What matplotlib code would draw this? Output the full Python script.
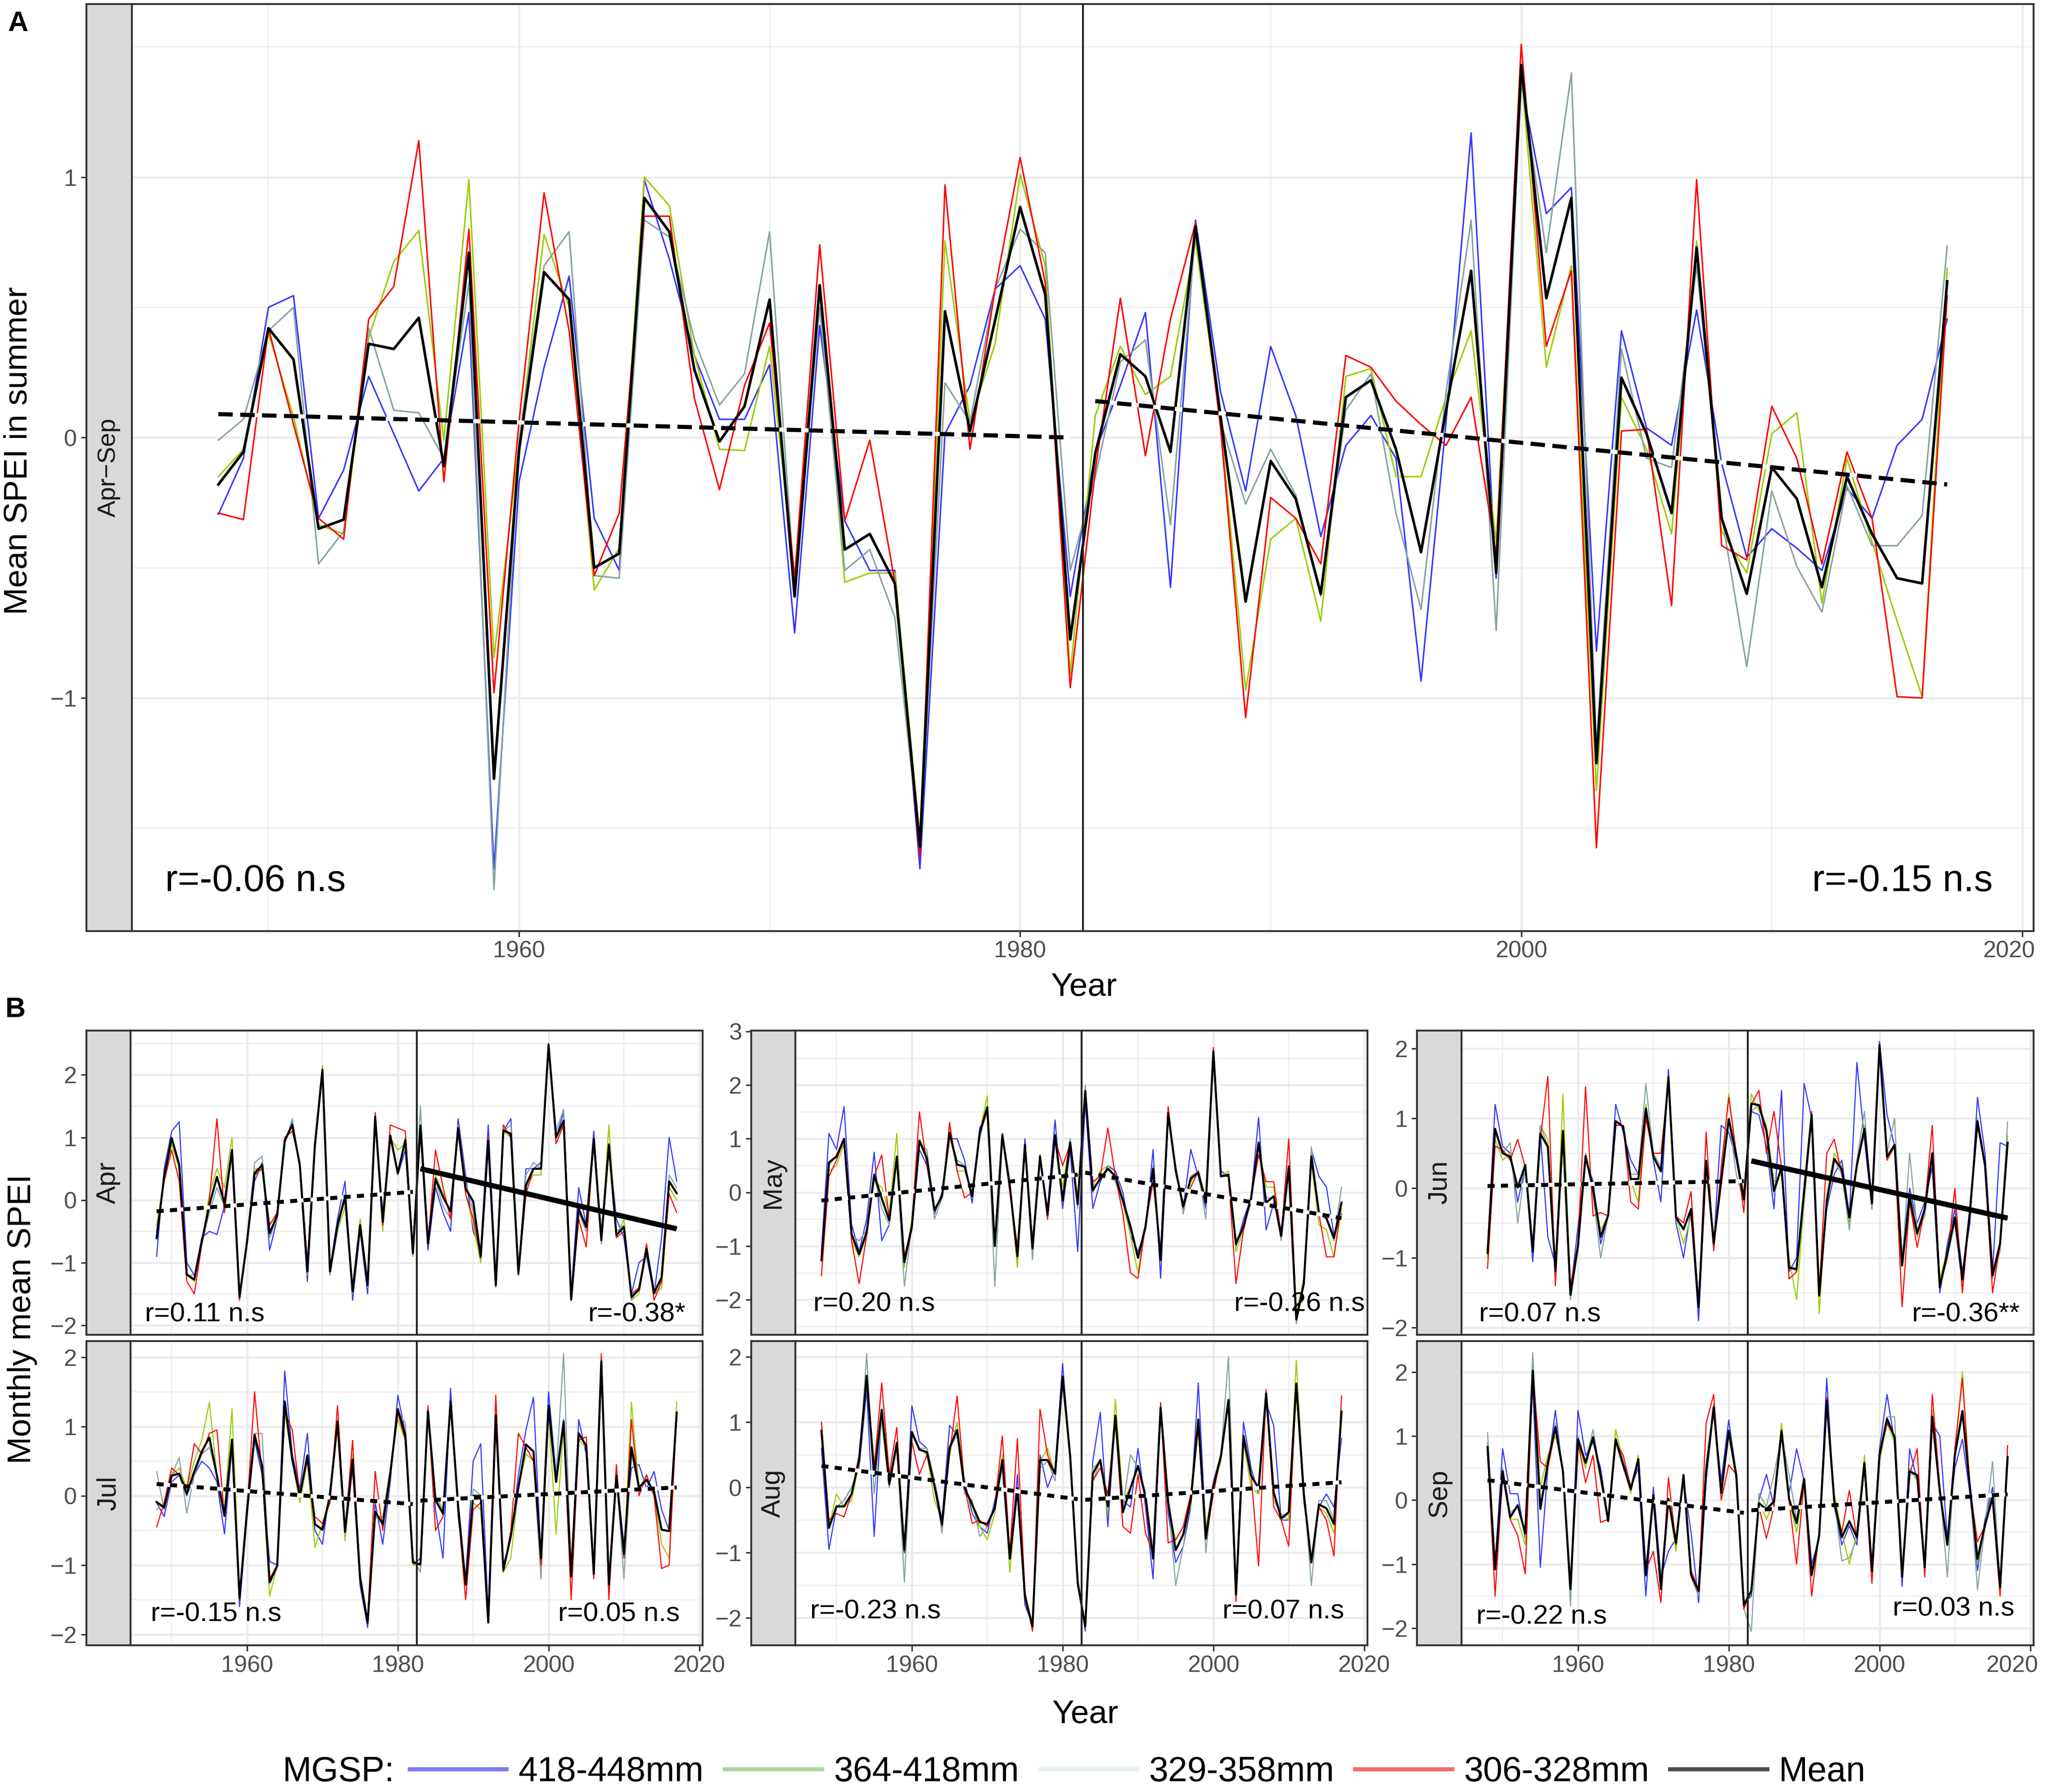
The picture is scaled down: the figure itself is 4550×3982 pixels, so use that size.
import numpy as np
import matplotlib
matplotlib.use('Agg')
import matplotlib.pyplot as plt
from matplotlib.lines import Line2D

plt.rcParams['font.family'] = ['Liberation Sans', 'DejaVu Sans']

years = np.arange(1948, 2018)
break_year = 1982.5
period1 = (1948, 1982)
period2 = (1983, 2017)

legend_labels = ['418-448mm', '364-418mm', '329-358mm', '306-328mm', 'Mean']
line_colors = ['#3535ff', '#9acd00', '#86a2a2', '#ff0000']
legend_colors = ['#7a7af2', '#aad5a0', '#e6f1e6', '#f36d6d', '#4d4d4d']

# ---------------- panel A : Apr-Sep mean SPEI ----------------
sum_mean = [-0.18, -0.055, 0.42, 0.30, -0.35, -0.315, 0.36, 0.34, 0.46, -0.11,
            0.71, -1.31, -0.05, 0.635, 0.53, -0.50, -0.445, 0.92, 0.79, 0.26,
            -0.015, 0.12, 0.53, -0.61, 0.585, -0.43, -0.37, -0.56, -1.57, 0.485,
            0.025, 0.45, 0.885, 0.55, -0.775, -0.06, 0.32, 0.235, -0.055, 0.81,
            0.08, -0.63, -0.09, -0.235, -0.60, 0.155, 0.22, -0.045, -0.44, 0.105,
            0.64, -0.52, 1.43, 0.535, 0.92, -1.25, 0.23, 0.015, -0.29, 0.73,
            -0.31, -0.60, -0.115, -0.235, -0.575, -0.15, -0.37, -0.54, -0.56, 0.60]
sum_blue = [-0.295, -0.08, 0.50, 0.545, -0.31, -0.125, 0.235, 0.015, -0.205, -0.08,
            0.48, -1.655, -0.17, 0.27, 0.62, -0.31, -0.51, 0.99, 0.685, 0.315,
            0.07, 0.07, 0.28, -0.75, 0.43, -0.32, -0.51, -0.51, -1.655, 0.015,
            0.20, 0.57, 0.66, 0.455, -0.61, -0.055, 0.20, 0.48, -0.575, 0.835,
            0.175, -0.205, 0.35, 0.085, -0.38, -0.03, 0.085, -0.08, -0.935, 0.06,
            1.17, -0.54, 1.36, 0.86, 0.96, -0.82, 0.41, 0.037, -0.03, 0.49,
            -0.10, -0.46, -0.35, -0.425, -0.51, -0.195, -0.31, -0.03, 0.07, 0.455]
sum_green = [-0.15, -0.045, 0.40, 0.08, -0.335, -0.37, 0.385, 0.675, 0.795, -0.01,
             0.99, -0.845, -0.03, 0.78, 0.50, -0.585, -0.425, 1.0, 0.89, 0.315,
             -0.045, -0.05, 0.35, -0.54, 0.57, -0.555, -0.52, -0.52, -1.54, 0.755,
             0.06, 0.36, 1.01, 0.66, -0.91, 0.085, 0.35, 0.165, 0.235, 0.755,
             0.06, -0.97, -0.39, -0.31, -0.705, 0.235, 0.265, -0.15, -0.15, 0.155,
             0.41, -0.40, 1.40, 0.27, 0.66, -1.355, 0.155, -0.045, -0.37, 0.755,
             -0.36, -0.52, 0.015, 0.095, -0.635, -0.08, -0.40, -0.705, -0.995, 0.65]
sum_gray = [-0.01, 0.07, 0.41, 0.50, -0.485, -0.36, 0.42, 0.105, 0.095, -0.08,
            0.595, -1.735, -0.01, 0.66, 0.79, -0.53, -0.54, 0.835, 0.77, 0.375,
            0.125, 0.245, 0.79, -0.575, 0.50, -0.51, -0.43, -0.69, -1.575, 0.21,
            0.06, 0.57, 0.80, 0.71, -0.51, -0.15, 0.29, 0.375, -0.335, 0.79,
            0.06, -0.255, -0.045, -0.22, -0.61, 0.105, 0.245, -0.29, -0.66, 0.175,
            0.835, -0.74, 1.38, 0.71, 1.40, -1.19, 0.34, -0.08, -0.115, 0.66,
            -0.30, -0.88, -0.205, -0.495, -0.67, -0.185, -0.415, -0.415, -0.30, 0.735]
sum_red = [-0.29, -0.315, 0.42, 0.05, -0.31, -0.39, 0.455, 0.58, 1.14, -0.17,
           0.80, -0.98, 0.06, 0.94, 0.41, -0.53, -0.29, 0.85, 0.85, 0.15,
           -0.20, 0.20, 0.44, -0.54, 0.74, -0.32, -0.01, -0.555, -1.61, 0.97,
           -0.045, 0.57, 1.075, 0.595, -0.96, -0.125, 0.535, -0.07, 0.455, 0.825,
           0.037, -1.075, -0.23, -0.31, -0.485, 0.315, 0.27, 0.14, 0.05, -0.03,
           0.155, -0.45, 1.51, 0.35, 0.64, -1.575, 0.025, 0.032, -0.645, 0.99,
           -0.415, -0.47, 0.12, -0.08, -0.485, -0.055, -0.31, -0.995, -1.0, 0.545]
sum_trend = [(0.09, 0.0, False), (0.14, -0.18, False)]
sum_r = ['r=-0.06 n.s', 'r=-0.15 n.s']

# ---------------- panel B : monthly SPEI ----------------
apr_mean = [-0.61, 0.37, 0.99, 0.56, -1.19, -1.27, -0.66, -0.08, 0.37, -0.05,
            0.80, -1.55, -0.66, 0.43, 0.56, -0.53, -0.24, 0.95, 1.20, 0.56,
            -1.14, 0.88, 2.08, -1.14, -0.40, 0.06, -1.46, -0.40, -1.36, 1.33,
            -0.35, 1.03, 0.43, 0.96, -0.85, 1.19, -0.69, 0.34, 0.05, -0.18,
            1.15, 0.18, -0.02, -0.91, 0.95, -1.36, 1.11, 1.06, -1.17, 0.24,
            0.50, 0.50, 2.48, 1.00, 1.27, -1.59, -0.14, -0.43, 0.98, -0.64,
            0.88, -0.56, -0.43, -1.55, -1.43, -0.78, -1.49, -1.23, 0.30, 0.11]
apr_blue = [-0.9, 0.5, 1.1, 1.25, -1.0, -1.2, -0.6, -0.5, -0.55, -0.1,
            0.8, -1.5, -0.7, 0.3, 0.6, -0.8, -0.3, 0.9, 1.25, 0.5,
            -1.3, 0.8, 2.0, -1.1, -0.3, 0.3, -1.6, -0.5, -1.5, 1.3,
            -0.2, 1.0, 0.4, 0.8, -0.9, 1.2, -0.8, 0.2, -0.2, -0.5,
            1.3, 0.4, -0.5, -0.8, 1.2, -1.3, 1.1, 1.3, -1.2, 0.5,
            0.5, 0.6, 2.4, 1.0, 1.4, -1.5, 0.2, -0.4, 1.1, -0.6,
            0.9, -0.3, -0.6, -1.5, -1.0, -0.9, -1.5, -0.6, 1.0, 0.3]
apr_green = [-0.4, 0.3, 0.9, 0.5, -1.2, -1.3, -0.7, 0.1, 0.5, 0.2,
             1.0, -1.6, -0.6, 0.5, 0.5, -0.4, -0.2, 1.0, 1.1, 0.6,
             -1.1, 0.9, 2.15, -1.2, -0.5, -0.1, -1.4, -0.3, -1.3, 1.3,
             -0.5, 1.0, 0.8, 0.9, -0.9, 1.2, -0.6, 0.4, 0.1, -0.2,
             1.1, 0.1, -0.4, -1.0, 0.9, -1.4, 1.1, 1.0, -1.2, 0.2,
             0.4, 0.4, 2.5, 1.0, 1.2, -1.6, -0.2, -0.4, 1.0, -0.7,
             1.2, -0.6, -0.3, -1.6, -1.5, -0.7, -1.5, -1.4, 0.2, 0.0]
apr_gray = [-0.6, 0.4, 1.0, 0.6, -1.2, -1.2, -0.7, -0.2, 0.2, -0.1,
            0.7, -1.5, -0.7, 0.6, 0.7, -0.6, -0.3, 0.9, 1.3, 0.5,
            -1.2, 0.9, 2.0, -1.2, -0.5, 0.1, -1.5, -0.4, -1.4, 1.3,
            -0.3, 1.0, 0.4, 1.0, -0.8, 1.5, -0.7, 0.3, -0.1, -0.3,
            1.2, 0.3, -0.2, -0.9, 1.0, -1.4, 1.1, 1.2, -1.1, 0.4,
            0.6, 0.5, 2.4, 1.1, 1.45, -1.6, -0.2, -0.5, 0.9, -0.7,
            0.8, -0.5, -0.4, -1.6, -1.4, -0.8, -1.4, -1.3, 0.4, 0.2]
apr_red = [-0.5, 0.3, 0.8, 0.3, -1.3, -1.5, -0.7, 0.0, 1.3, -0.2,
           0.8, -1.6, -0.7, 0.4, 0.5, -0.4, -0.2, 1.0, 1.1, 0.6,
           -1.0, 0.9, 2.1, -1.1, -0.4, 0.0, -1.4, -0.4, -1.3, 1.4,
           -0.4, 1.2, 1.15, 1.1, -0.8, 1.1, -0.7, 0.8, 0.2, -0.3,
           1.1, 0.1, -0.3, -0.9, 1.0, -1.3, 1.2, 1.0, -1.2, 0.1,
           0.5, 0.5, 2.5, 0.9, 1.2, -1.6, -0.3, -0.75, 1.0, -0.6,
           0.9, -0.6, -0.5, -1.5, -1.4, -0.7, -1.6, -1.3, 0.1, -0.2]

may_mean = [-1.26, 0.56, 0.67, 1.00, -0.78, -1.15, -0.74, 0.33, -0.11, -0.52,
            0.67, -1.30, -0.63, 0.96, 0.63, -0.33, -0.07, 1.11, 0.52, 0.48,
            -0.07, 1.11, 1.59, -1.00, 1.07, 0.11, -1.19, 0.89, -1.04, 0.67,
            -0.41, 1.07, -0.15, 0.93, -0.22, 1.89, 0.04, 0.26, 0.44, 0.30,
            -0.15, -0.63, -1.22, -0.63, 0.44, -1.26, 1.48, 0.41, -0.26, 0.26,
            0.37, -0.19, 2.63, 0.30, 0.33, -0.96, -0.63, -0.11, 0.93, -0.19,
            -0.07, -0.81, 0.48, -2.37, -1.70, 0.67, -0.37, -0.48, -0.85, -0.19]
may_blue = [-1.1, 1.1, 0.8, 1.6, -0.6, -1.1, -0.5, 0.75, -0.9, -0.6,
            0.6, -1.2, -0.7, 0.8, 0.5, -0.4, 0.0, 1.0, 1.0, 0.6,
            -0.2, 1.2, 1.5, -0.9, 1.1, 0.2, -1.3, 1.0, -1.1, 0.6,
            -0.3, 1.35, -0.3, 0.8, -1.1, 1.7, -0.3, 0.2, 0.5, 0.4,
            0.0, -0.8, -1.1, -0.7, 0.8, -1.6, 1.4, 0.5, -0.3, 0.8,
            0.3, -0.3, 2.6, 0.4, 0.3, -1.0, -0.5, -0.1, 1.4, -0.7,
            -0.2, -0.7, 0.5, -2.3, -1.6, 0.8, 0.3, 0.1, -0.8, -0.4]
may_green = [-1.3, 0.4, 0.5, 0.9, -0.9, -1.2, -0.8, 0.2, 0.1, -0.4,
             1.1, -1.4, -0.5, 1.0, 0.7, -0.3, -0.1, 1.2, 0.4, 0.4,
             0.0, 1.1, 1.8, -1.0, 1.0, 0.1, -1.4, 0.9, -1.0, 0.7,
             -0.4, 1.0, 0.1, 1.0, -0.2, 1.8, 0.1, 0.4, 0.5, 0.3,
             -0.2, -0.8, -1.5, -0.6, 0.4, -1.2, 1.5, 0.4, -0.2, 0.2,
             0.4, -0.1, 2.6, 0.3, 0.4, -1.1, -0.7, -0.1, 0.9, 0.1,
             0.1, -0.8, 0.4, -2.3, -1.6, 0.6, -0.6, -0.7, -1.2, -0.3]
may_gray = [-1.2, 0.5, 0.7, 0.9, -0.8, -0.9, -0.7, 0.3, -0.3, -0.6,
            0.6, -1.75, -0.6, 0.9, 0.8, -0.5, -0.1, 1.1, 0.6, 0.5,
            -0.1, 1.0, 1.6, -1.75, 1.0, 0.1, -1.1, 0.8, -1.25, 0.7,
            -0.4, 1.0, -0.1, 1.0, -0.3, 2.0, 0.0, 0.3, 0.3, 0.2,
            -0.2, -0.6, -1.2, -0.7, 0.5, -1.3, 1.4, 0.5, -0.4, 0.3,
            0.4, -0.5, 2.6, 0.3, 0.3, -0.9, -0.6, -0.2, 0.9, -0.1,
            -0.1, -0.9, 0.4, -2.45, -1.7, 0.85, -0.4, -0.5, -0.9, 0.1]
may_red = [-1.55, 0.3, 0.6, 1.0, -0.9, -1.7, -0.8, 0.3, 0.7, -0.5,
           0.6, -1.2, -0.6, 1.5, 0.5, -0.3, -0.1, 1.3, 0.4, -0.1,
           0.0, 1.1, 1.5, -0.9, 1.1, 0.0, -1.0, 0.8, -0.9, 0.7,
           -0.5, 1.0, 0.5, 0.9, -0.1, 1.9, 0.2, 0.3, 1.2, 0.3,
           -0.4, -1.5, -1.6, -0.6, 0.2, -1.1, 1.6, 0.4, -0.2, 0.1,
           0.4, -0.2, 2.7, 0.3, 0.3, -1.7, -0.7, -0.1, 0.7, 0.2,
           0.2, -0.8, 1.0, -2.3, -1.7, 0.6, -0.4, -1.2, -1.2, -0.2]

jun_mean = [-0.93, 0.85, 0.50, 0.45, 0.01, 0.33, -0.91, 0.78, 0.59, -1.19,
            0.82, -1.53, -0.82, 0.46, -0.01, -0.70, -0.39, 0.96, 0.88, 0.13,
            0.13, 1.14, 0.45, 0.24, 1.59, -0.42, -0.59, -0.30, -1.71, 0.39,
            -0.79, 0.10, 0.99, 0.47, -0.16, 1.21, 1.19, 0.82, -0.04, 0.30,
            -1.14, -1.16, -0.04, 1.05, -1.54, -0.19, 0.42, 0.27, -0.42, 0.33,
            0.85, -0.22, 2.05, 0.45, 0.62, -1.11, -0.13, -0.65, -0.30, 0.50,
            -1.42, -0.93, -0.42, -1.31, -0.33, 0.96, 0.33, -1.25, -0.79, 0.65]
jun_blue = [-0.9, 1.2, 0.6, 0.5, -0.2, 0.3, -1.05, 0.8, -0.7, -1.1,
            0.8, -1.5, -0.55, 0.4, 0.1, -0.8, -0.4, 1.2, 0.8, 0.4,
            0.2, 1.1, 0.4, -0.2, 1.7, -0.5, -1.0, -0.3, -1.9, 0.4,
            -0.8, 0.9, 0.8, 0.4, -0.2, 1.1, 1.05, 0.6, -0.3, 1.4,
            -1.2, -1.0, 1.5, 1.0, -1.5, -0.3, 0.2, 0.4, -0.4, 1.8,
            0.7, -0.3, 2.1, 1.05, 0.6, -1.0, 0.0, -0.5, -0.2, 0.3,
            -1.5, -0.8, -0.3, -1.2, -0.5, 1.3, 0.5, -1.2, 0.65, 0.6]
jun_green = [-1.0, 0.7, 0.4, 0.5, 0.0, 0.3, -0.9, 0.9, 0.7, -1.3,
             1.35, -1.5, -0.9, 0.5, 0.0, -0.6, -0.4, 0.9, 0.9, 0.1,
             -0.2, 1.2, 0.5, 0.3, 1.5, -0.4, -0.8, -0.4, -1.6, 0.4,
             -0.8, 0.2, 1.35, 0.5, -0.1, 1.35, 1.1, 0.9, 0.1, 0.2,
             -1.0, -1.6, -0.2, 1.0, -1.8, -0.1, 0.5, 0.3, -0.5, 0.3,
             0.9, -0.2, 2.0, 0.4, 0.6, -1.1, -0.2, -0.7, -0.3, 0.5,
             -1.3, -0.9, -0.4, -1.3, -0.3, 1.0, 0.3, -1.2, -0.8, 0.75]
jun_gray = [-0.9, 0.8, 0.5, 0.65, -0.5, 0.3, -0.8, 0.9, 0.6, -1.2,
            0.7, -1.6, -0.8, 0.5, -0.1, -1.0, -0.4, 0.9, 0.9, 0.2,
            0.2, 1.5, 0.5, 0.3, 1.5, -0.4, -0.6, -0.3, -1.7, 0.4,
            -0.7, 0.2, 1.0, 0.2, -0.2, 1.1, 1.2, 0.8, -0.1, 0.3,
            -1.1, -1.2, -0.2, 1.0, -1.5, -0.2, 0.4, 0.2, -0.6, 0.4,
            1.1, -0.3, 2.0, 0.5, 1.0, -1.1, 0.5, -0.6, -0.4, 0.5,
            -1.4, -1.0, -0.5, -1.4, -0.3, 0.9, 0.3, -1.3, -0.9, 0.95]
jun_red = [-1.15, 0.6, 0.55, 0.4, 0.7, 0.3, -0.9, 0.7, 1.6, -1.4,
           0.8, -1.4, -0.8, 1.45, -0.4, -0.35, -0.4, 0.9, 0.9, -0.2,
           -0.3, 1.0, 0.5, 0.5, 1.5, -0.4, -0.5, -0.05, -1.7, 0.8,
           -0.9, 0.3, 1.3, 0.5, -0.35, 1.2, 1.4, 0.5, 1.1, 0.3,
           -1.3, -1.2, 0.0, 1.1, -1.5, 0.5, 0.7, 0.2, -0.4, 0.3,
           0.8, -0.2, 2.0, 0.4, 0.6, -1.7, -0.2, -0.85, -0.3, 0.9,
           -1.4, -1.0, 0.0, -1.5, -0.3, 0.9, 0.3, -1.5, -0.8, 0.6]

jul_mean = [-0.09, -0.17, 0.29, 0.32, 0.03, 0.35, 0.64, 0.84, 0.29, -0.29,
            0.81, -1.48, -0.20, 0.88, 0.43, -1.25, -1.01, 1.36, 0.52, 0.00,
            0.58, -0.41, -0.49, 0.00, 1.07, -0.52, 0.52, -1.19, -1.83, -0.23,
            -0.41, 0.32, 1.25, 0.87, -0.96, -0.99, 1.22, -0.06, -0.26, 1.36,
            -0.14, -1.28, 0.00, 0.00, -1.83, 1.16, -1.07, -0.58, 0.12, 0.74,
            0.64, -0.90, 1.30, 0.20, 1.07, -1.16, 0.90, 0.72, -1.13, 1.94,
            -1.28, 0.29, -0.84, 0.70, 0.12, 0.23, 0.06, -0.49, -0.51, 1.20]
jul_blue = [-0.1, -0.3, 0.2, 0.3, 0.0, 0.3, 0.5, 0.4, 0.2, -0.55,
            0.7, -1.6, -0.3, 0.8, 0.3, -0.95, -1.0, 1.8, 0.6, 0.1,
            0.9, -0.5, -0.7, 0.1, 1.0, -0.6, 0.4, -1.3, -1.9, -0.1,
            -0.7, 0.2, 1.45, 0.9, -1.0, -0.9, 1.2, -0.2, -0.9, 1.55,
            -0.3, -1.2, 0.5, 0.75, -1.7, 1.1, -1.0, -0.6, 0.3, 0.95,
            1.42, -0.9, 1.5, 0.3, 1.1, -1.1, 1.1, 0.6, -1.1, 1.8,
            -1.2, 0.3, -0.7, 0.4, 0.45, 0.1, 0.35, -0.2, -0.5, 1.1]
jul_green = [-0.2, -0.1, 0.3, 0.4, 0.1, 0.5, 0.8, 1.35, 0.3, -0.2,
             1.25, -1.4, -0.2, 0.9, 0.4, -1.45, -1.0, 1.2, 0.5, -0.1,
             0.5, -0.75, -0.4, 0.0, 1.1, -0.65, 0.6, -1.1, -1.8, -0.3,
             -0.3, 0.4, 1.1, 0.8, -1.0, -1.0, 1.2, -0.1, -0.2, 1.3,
             -0.1, -1.3, -0.1, -0.2, -1.8, 1.2, -1.1, -0.9, 0.1, 0.6,
             0.5, -0.8, 1.2, -0.55, 1.0, -1.2, 0.8, 0.7, -1.0, 1.9,
             -1.3, 0.2, -0.9, 1.35, 0.1, 0.3, 0.0, -0.7, -0.9, 1.35]
jul_gray = [0.35, -0.2, 0.3, 0.55, -0.25, 0.3, 0.6, 0.7, 0.3, -0.3,
            0.8, -1.5, -0.2, 0.9, 0.9, -1.2, -1.0, 1.3, 0.5, 0.0,
            0.6, -0.4, -0.5, 0.0, 1.0, -0.5, 0.5, -1.2, -1.8, -0.3,
            -0.4, 0.3, 1.2, 1.05, -0.9, -1.1, 1.2, 0.0, -0.2, 1.3,
            -0.1, -1.3, 0.1, 0.0, -1.8, 1.1, -1.1, -0.5, 0.1, 0.7,
            0.5, -1.2, 1.3, 0.3, 2.05, -1.1, 0.9, 0.7, -1.1, 1.9,
            -1.3, 0.3, -1.2, 0.6, 0.1, 0.3, 0.0, -0.5, -0.5, 1.2]
jul_red = [-0.45, -0.1, 0.4, 0.3, 0.1, 0.75, 0.6, 0.9, 0.95, -0.3,
           0.7, -1.5, -0.2, 1.5, 0.3, -1.2, -1.0, 1.2, 0.95, 0.0,
           0.5, -0.3, -0.4, -0.1, 1.3, -0.5, 0.8, -1.2, -1.8, 0.35,
           -0.5, 0.3, 1.2, 0.8, -0.95, -1.0, 1.3, -0.5, -0.3, 1.3,
           -0.2, -1.5, -0.2, -0.1, -1.8, 1.45, -1.1, -0.5, 0.9, 0.7,
           0.5, -1.0, 1.2, 0.2, 1.0, -1.5, 0.8, 0.85, -1.2, 2.05,
           -1.5, 0.45, -0.9, 1.1, 0.0, 0.3, 0.0, -1.05, -1.0, 1.2]

aug_mean = [0.87, -0.62, -0.29, -0.29, -0.10, 0.42, 1.71, 0.18, 1.19, 0.05,
            0.68, -0.96, 0.85, 0.58, 0.54, 0.02, -0.56, 0.61, 0.88, -0.01,
            -0.26, -0.53, -0.56, -0.32, 0.42, -1.09, -0.01, -1.67, -2.13, 0.42,
            0.42, 0.21, 1.70, 0.48, -1.46, -2.13, 0.21, 0.42, -0.29, 1.10,
            -0.38, -0.01, 0.33, -0.13, -1.09, 1.22, -0.22, -0.96, -0.72, -0.19,
            1.04, -0.78, 0.02, 0.48, 1.34, -1.64, 0.79, 0.18, -0.01, 1.44,
            -0.07, -0.47, -0.38, 1.59, -0.10, -1.15, -0.26, -0.32, -0.56, 1.16]
aug_blue = [0.6, -0.95, -0.3, -0.2, 0.0, 0.3, 1.5, -0.75, 1.2, 0.1,
            0.7, -1.0, 1.25, 0.7, 0.6, 0.1, -0.5, 0.95, 0.8, 0.1,
            -0.4, -0.6, -0.7, -0.2, 0.3, -1.1, 0.2, -1.8, -2.1, 0.5,
            0.0, 0.3, 1.9, 0.4, -1.4, -2.2, 0.4, 1.15, -0.6, 1.1,
            -0.2, -0.3, 0.6, -0.3, -1.4, 1.2, -0.4, -1.15, -0.9, -0.3,
            1.6, -0.7, 0.1, 0.5, 1.3, -1.6, 1.0, 0.3, -0.1, 1.3,
            0.95, -0.5, -0.5, 1.5, -0.2, -1.1, -0.3, -0.1, -0.3, 0.75]
aug_green = [1.0, -0.6, -0.1, -0.3, -0.2, 0.4, 1.6, 0.4, 1.0, 0.0,
             0.6, -1.0, 0.8, 0.6, 0.5, -0.2, -0.5, 0.5, 1.0, 0.0,
             -0.3, -0.6, -0.8, -0.4, 0.5, -1.3, 0.0, -1.6, -2.1, 0.4,
             0.6, 0.2, 1.6, 0.4, -1.4, -2.1, 0.3, 0.4, -0.4, 1.35,
             -0.2, 0.0, 0.3, -0.1, -1.1, 1.2, -0.3, -0.8, -0.6, -0.3,
             0.9, -0.6, 0.0, 0.4, 1.3, -1.6, 0.7, 0.0, -0.1, 1.4,
             -0.2, -0.4, -0.5, 1.95, -0.1, -1.1, -0.3, -0.4, -0.7, 1.2]
aug_gray = [0.8, -0.6, -0.3, -0.2, 0.0, 0.3, 2.05, -0.1, 1.1, 0.0,
            0.7, -1.45, 0.8, 0.6, 0.6, 0.1, -0.7, 0.6, 0.8, -0.1,
            -0.2, -0.75, -0.6, -0.3, 0.3, -1.0, -0.1, -1.7, -2.1, 0.3,
            0.4, 0.1, 1.7, 0.5, -1.5, -2.1, 0.1, 0.4, -0.2, 1.1,
            -0.3, 0.5, 0.3, -0.2, -1.0, 1.2, -0.2, -1.5, -0.9, -0.1,
            1.0, -1.0, 0.1, 0.5, 2.0, -1.5, 0.8, 0.2, 0.0, 1.4,
            -0.1, -0.5, -0.4, 1.5, 0.0, -1.5, -0.2, -0.2, -0.5, 1.1]
aug_red = [1.0, -0.5, -0.4, -0.45, -0.1, 0.5, 1.7, 0.3, 1.6, 0.2,
           0.92, -1.0, 0.7, 0.2, 0.5, 0.0, -0.6, 0.5, 1.4, 0.0,
           -0.55, -0.5, -0.6, -0.3, 0.79, -1.0, 0.75, -1.6, -2.2, 1.2,
           0.5, 0.2, 1.6, 0.5, -1.5, -2.1, 0.1, 0.3, -0.1, 1.0,
           -0.6, -0.7, 0.2, -0.7, -1.0, 1.3, -0.85, -0.8, -0.6, -0.1,
           0.9, -0.8, -0.1, 0.5, 1.3, -1.75, 0.7, 0.2, -1.2, 1.5,
           -0.3, -0.5, -0.9, 1.6, -0.1, -1.1, -0.3, -0.5, -1.05, 1.4]

sep_mean = [0.83, -1.08, 0.45, -0.27, -0.08, -0.52, 2.02, -0.14, 0.58, 1.14,
            0.45, -1.39, 0.95, 0.58, 0.98, 0.39, -0.33, 0.95, 0.55, 0.17,
            0.64, -1.17, 0.08, -1.39, 0.02, -0.67, 0.39, -1.17, -1.42, 0.45,
            1.45, 0.11, 1.08, 0.39, -1.64, -1.42, -0.05, -0.14, -0.02, 1.08,
            0.02, -0.36, 0.33, -1.17, -0.55, 1.55, -0.02, -0.58, -0.33, -0.58,
            0.58, -1.11, 0.70, 1.27, 0.98, -1.20, 0.45, 0.39, -1.05, 1.30,
            0.14, -0.70, 0.70, 1.39, 0.20, -0.92, -0.39, 0.05, -1.36, 0.67]
sep_blue = [0.7, -1.0, 0.8, 0.1, 0.1, -0.6, 1.8, -1.05, 0.5, 1.4,
            0.4, -1.4, 1.4, 0.7, 0.9, 0.5, -0.3, 0.9, 0.6, 0.2,
            0.5, -1.5, 0.2, -1.2, -0.8, -0.6, 0.3, -0.5, -1.6, 0.3,
            1.4, 0.3, 1.25, 0.4, -1.6, -1.5, 0.0, 0.4, -0.1, 1.0,
            0.1, 0.8, 0.3, -1.0, -0.6, 1.9, -0.1, -0.7, -0.4, -0.7,
            0.6, -1.0, 0.8, 1.65, 0.9, -1.35, 0.8, 0.3, -1.1, 1.2,
            1.0, -0.6, 0.5, 0.95, 0.1, -1.1, -0.3, 0.2, -1.3, 0.6]
sep_green = [0.9, -1.1, 0.4, -0.3, -0.3, -0.7, 2.1, 0.2, 0.7, 1.0,
             0.5, -1.4, 0.9, 0.5, 1.0, 0.3, -0.3, 1.1, 0.6, 0.1,
             0.7, -1.1, 0.0, -1.3, 0.0, -0.8, 0.4, -1.1, -1.4, 0.6,
             1.4, 0.1, 1.0, 0.3, -1.6, -1.4, 0.0, -0.3, 0.0, 1.2,
             0.0, -0.5, 0.3, -1.2, -0.5, 1.5, 0.1, -0.5, -1.0, -0.5,
             0.7, -1.1, 0.6, 1.2, 0.9, -1.2, 0.5, 0.3, -1.0, 1.4,
             0.1, -0.7, 0.7, 2.0, 0.2, -1.0, -0.4, 0.1, -1.3, 0.6]
sep_gray = [1.05, -1.0, 0.5, -0.2, -0.1, -0.5, 2.3, -0.1, 0.6, 1.2,
            0.5, -1.65, 1.0, 0.6, 1.1, 0.4, -0.3, 0.9, 0.5, 0.15,
            0.6, -1.2, 0.1, -1.4, 0.0, -0.6, 0.4, -1.2, -1.5, 0.4,
            1.5, 0.1, 1.1, 0.4, -1.7, -2.05, 0.1, -0.1, 0.4, 1.0,
            0.4, -0.3, 0.3, -1.1, -0.6, 1.5, 0.0, -0.95, -0.9, -0.6,
            0.6, -1.1, 0.7, 1.3, 1.3, -1.2, 0.4, 0.4, -1.0, 1.3,
            0.2, -1.2, 0.7, 1.3, 0.2, -1.4, -0.4, 0.6, -1.3, 0.7]
sep_red = [0.8, -1.5, 0.4, -0.3, -0.55, -1.15, 2.0, 0.6, 0.5, 1.1,
           0.5, -1.4, 0.9, 0.27, 0.7, -0.35, -0.3, 0.9, 0.7, 0.2,
           0.6, -1.1, -0.8, -1.6, 0.35, -0.7, 0.4, -1.1, -1.4, 1.2,
           1.65, 0.0, 0.55, 0.4, -1.7, -1.4, -0.1, -0.6, -0.1, 1.1,
           0.0, -1.0, 0.3, -1.5, -0.5, 1.6, -0.1, -0.5, 0.15, -0.6,
           0.5, -1.3, 0.7, 1.2, 1.0, -1.2, 0.4, 0.8, -1.2, 1.65,
           0.2, -0.7, 0.8, 1.9, 0.2, -0.65, -0.4, 0.0, -1.5, 0.85]

month_labels = ['Apr', 'May', 'Jun', 'Jul', 'Aug', 'Sep']
month_trends = [[(-0.18, 0.13, False), (0.50, -0.46, True)],
                [(-0.15, 0.33, False), (0.37, -0.48, False)],
                [(0.03, 0.10, False), (0.39, -0.43, True)],
                [(0.17, -0.12, False), (-0.07, 0.12, False)],
                [(0.33, -0.18, False), (-0.19, 0.08, False)],
                [(0.31, -0.20, False), (-0.16, 0.09, False)]]
month_r = [('r=0.11 n.s', 'r=-0.38*'), ('r=0.20 n.s', 'r=-0.26 n.s'),
           ('r=0.07 n.s', 'r=-0.36**'), ('r=-0.15 n.s', 'r=0.05 n.s'),
           ('r=-0.23 n.s', 'r=0.07 n.s'), ('r=-0.22 n.s', 'r=0.03 n.s')]

month_data = [(apr_mean, [apr_blue, apr_green, apr_gray, apr_red]),
              (may_mean, [may_blue, may_green, may_gray, may_red]),
              (jun_mean, [jun_blue, jun_green, jun_gray, jun_red]),
              (jul_mean, [jul_blue, jul_green, jul_gray, jul_red]),
              (aug_mean, [aug_blue, aug_green, aug_gray, aug_red]),
              (sep_mean, [sep_blue, sep_green, sep_gray, sep_red])]

# layout (in reference pixel grid, 1568 x 1372)
W, H = 1568.0, 1372.2
month_ylim = [(-2.15, 2.71), (-2.65, 3.02), (-2.10, 2.26),
              (-2.16, 2.23), (-2.42, 2.24), (-2.27, 2.48)]
month_yticks = [[-2, -1, 0, 1, 2], [-2, -1, 0, 1, 2, 3], [-2, -1, 0, 1, 2],
                [-2, -1, 0, 1, 2], [-2, -1, 0, 1, 2], [-2, -1, 0, 1, 2]]
r_pos = [(0.025, 0.970, 0.066, 0.066), (0.031, 0.995, 0.100, 0.100),
         (0.031, 0.976, 0.066, 0.066), (0.035, 0.960, 0.102, 0.102),
         (0.026, 0.959, 0.111, 0.111), (0.026, 0.966, 0.094, 0.120)]
xticks = [1960, 1980, 2000, 2020]


def rect(x0, y0, x1, y1):
    return [x0 / W, 1 - y1 / H, (x1 - x0) / W, (y1 - y0) / H]


fig = plt.figure(figsize=(4550 / 300, 3982 / 300), dpi=300)


def panel(box, sbox, mean, lines, trends, rtxt, rpos, ylim, yticks, label,
          xlabels=True, lw=0.7, mlw=1.35, tlw=2.0, dash=(4, 2), sig_lw=2.6,
          rsize=14.5, ssize=14.5, tsize=12.5, last_shift=0.0):
    ax = fig.add_axes(rect(*box))
    sx = fig.add_axes(rect(*sbox), sharey=ax)
    ax.set_xlim(1944.55, 2020.45)
    ax.set_ylim(*ylim)
    ax.set_xticks(xticks)
    ax.set_xticks([1950, 1970, 1990, 2010], minor=True)
    ax.set_yticks(yticks)
    minor_y = [t + 0.5 for t in yticks[:-1]]
    if yticks[-1] + 0.5 < ylim[1]:
        minor_y.append(yticks[-1] + 0.5)
    if yticks[0] - 0.5 > ylim[0]:
        minor_y.append(yticks[0] - 0.5)
    ax.set_yticks(minor_y, minor=True)
    ax.grid(which='major', color='#ebebeb', lw=1.1)
    ax.grid(which='minor', color='#ebebeb', lw=0.55)
    ax.set_axisbelow(True)
    ax.tick_params(axis='y', which='both', left=False, labelleft=False)
    ax.tick_params(axis='x', which='minor', bottom=False)
    ax.tick_params(axis='x', which='major', color='#333333', length=3,
                   width=0.8, labelsize=tsize, labelcolor='#4d4d4d', pad=2,
                   bottom=xlabels, labelbottom=xlabels)
    if xlabels and last_shift:
        # the last label sits inside the figure edge, as in the reference
        ax.set_xticklabels([str(t) for t in xticks[:-1]] + [''])
        ax.annotate(str(xticks[-1]), xy=(xticks[-1], 0),
                    xycoords=('data', 'axes fraction'),
                    xytext=(last_shift, -5), textcoords='offset points',
                    ha='center', va='top', fontsize=tsize, color='#4d4d4d')
    for s in ax.spines.values():
        s.set_color('#333333')
        s.set_linewidth(1.0)

    for vals, c in zip(lines, line_colors):
        ax.plot(years, vals, color=c, lw=lw, zorder=2)
    ax.plot(years, mean, color='black', lw=mlw, zorder=3)
    ax.axvline(break_year, color='#222222', lw=1.0, zorder=4)

    for (y0, y1, sig), (a, b) in zip(trends, [period1, period2]):
        if sig:
            ax.plot([a, b], [y0, y1], color='black', lw=sig_lw, zorder=5,
                    solid_capstyle='butt')
        else:
            ax.plot([a, b], [y0, y1], color='white', lw=tlw, zorder=5,
                    solid_capstyle='butt')
            ax.plot([a, b], [y0, y1], color='black', lw=tlw, zorder=6,
                    ls=(0, dash), dash_capstyle='butt')

    ax.text(rpos[0], rpos[2], rtxt[0], transform=ax.transAxes, ha='left',
            va='center', fontsize=rsize, zorder=7)
    ax.text(rpos[1], rpos[3], rtxt[1], transform=ax.transAxes, ha='right',
            va='center', fontsize=rsize, zorder=7)

    sx.set_facecolor('#d9d9d9')
    sx.set_xticks([])
    for s in sx.spines.values():
        s.set_color('#333333')
        s.set_linewidth(1.0)
    sx.tick_params(axis='y', which='minor', left=False)
    sx.tick_params(axis='y', which='major', color='#333333', length=3,
                   width=0.8, labelsize=tsize, labelcolor='#4d4d4d', pad=2)
    sx.text(0.5, 0.5, label, transform=sx.transAxes, rotation=90,
            ha='center', va='center', fontsize=ssize, color='#1a1a1a')
    return ax


# panel A
panel((101, 3, 1557, 713), (66, 3, 101, 713), sum_mean,
      [sum_blue, sum_green, sum_gray, sum_red], sum_trend, sum_r,
      (0.0175, 0.9786, 0.054, 0.054), (-1.895, 1.665), [-1, 0, 1],
      'Apr\u2212Sep', lw=0.8, mlw=1.4, tlw=2.2, dash=(3.5, 1.8),
      rsize=20, ssize=13.5, tsize=12.5, last_shift=-7.2)

# panel B
col_x = [(66, 100, 538), (575, 609, 1047), (1085, 1119, 1557)]
row_y = [(789, 1022), (1027, 1260)]
for i, lab in enumerate(month_labels):
    r, c = divmod(i, 3)
    sx0, px0, px1 = col_x[c]
    py0, py1 = row_y[r]
    mean, lines = month_data[i]
    panel((px0, py0, px1, py1), (sx0, py0, px0, py1), mean, lines,
          month_trends[i], month_r[i], r_pos[i], month_ylim[i],
          month_yticks[i], lab, xlabels=(r == 1), lw=0.6, mlw=1.1,
          tlw=2.1, dash=(1.8, 1.6), sig_lw=2.8, rsize=14.5, ssize=14.5,
          tsize=12.5, last_shift=(-9.6 if c == 2 else 0.0))

# labels
fig.text(6 / W, 1 - 18 / H, 'A', fontsize=15, fontweight='bold',
         ha='left', va='center')
fig.text(4 / W, 1 - 773 / H, 'B', fontsize=15, fontweight='bold',
         ha='left', va='center')
fig.text(14 / W, 1 - 345 / H, 'Mean SPEI in summer', rotation=90,
         fontsize=17.5, ha='center', va='center')
fig.text(830 / W, 1 - 756 / H, 'Year', fontsize=17.5, ha='center', va='center')
fig.text(17 / W, 1 - 1010 / H, 'Monthly mean SPEI', rotation=90,
         fontsize=17.5, ha='center', va='center')
fig.text(831 / W, 1 - 1313 / H, 'Year', fontsize=17.5, ha='center', va='center')

# legend
handles = [Line2D([], [], color=c, lw=2.2) for c in legend_colors]
fig.legend(handles, legend_labels, loc='center',
           bbox_to_anchor=(871 / W, 1 - 1357 / H), ncol=5, frameon=False,
           fontsize=18.5, handlelength=2.8, handletextpad=0.34,
           columnspacing=0.6, borderpad=0, borderaxespad=0)
fig.text(302 / W, 1 - 1357 / H, 'MGSP:', fontsize=18.5, ha='right',
         va='center')

fig.savefig('out.png', dpi=300)
